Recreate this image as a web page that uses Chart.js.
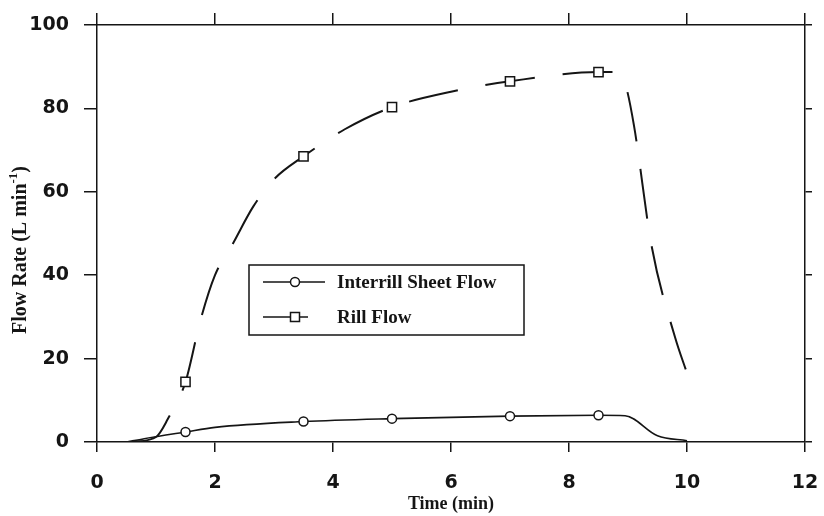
<!DOCTYPE html>
<html lang="en">
<head>
<meta charset="utf-8" />
<title>Flow Rate vs Time</title>
<script src="https://cdn.jsdelivr.net/npm/chart.js/dist/chart.umd.min.js"></script>
<style>
  * { margin: 0; padding: 0; }
  body { background: #fff; }
</style>
</head>
<body>
<canvas id="myChart" width="824" height="516"></canvas>
<script>
// values
const sheetTime = [0.5, 0.8, 1.5, 2, 3.5, 5, 7, 8.5, 8.95, 9.5, 10];
const sheetFlow = [0, 0.8, 2.4, 3.5, 4.9, 5.6, 6.2, 6.4, 6.3, 1.5, 0.3];
const rillTime = [0.6, 1.0, 1.2, 1.5, 1.75, 2.0, 2.3, 2.65, 3.0, 3.5, 4.2, 5, 6, 7, 8.5, 8.8, 8.95, 9.1, 9.4, 9.8, 10];
const rillFlow = [0, 1.2, 5.5, 14.4, 29, 40, 47.5, 56.5, 63, 68.5, 75, 80.3, 84, 86.5, 88.7, 88.7, 86, 76, 47, 25, 16.5];
const markerTimes = [1.5, 3.5, 5, 7, 8.5];
const xTicks = [0, 2, 4, 6, 8, 10, 12];
const yTicks = [0, 20, 40, 60, 80, 100];
const seriesNames = ["Interrill Sheet Flow", "Rill Flow"];

const ink = "#151515";
const toPoints = (xs, ys) => xs.map((x, i) => ({ x: x, y: ys[i] }));
const markerAt = (r) => (ctx) => markerTimes.includes(ctx.raw && ctx.raw.x) ? r : 0;

const tickFont = { family: "DejaVu Sans", size: 19, weight: "bold" };

const axisBase = {
  type: "linear",
  border: { display: true, color: ink, width: 1.5 },
  grid: { drawOnChartArea: false, drawTicks: true, color: ink, lineWidth: 1.5 },
};
// keep the plot box fixed, no extra room for the edge labels
const noPad = (s) => { s.paddingLeft = 0; s.paddingRight = 0; s.paddingTop = 0; s.paddingBottom = 0; };

// legend box drawn inside the plot, like the original figure
const boxLegend = {
  id: "boxLegend",
  afterDraw(chart) {
    const ctx = chart.ctx;
    ctx.save();
    ctx.strokeStyle = ink;
    ctx.lineWidth = 1.5;
    ctx.strokeRect(249, 265, 275, 70);

    const rows = [
      { y: 282, x1: 263, x2: 325, shape: "circle" },
      { y: 317, x1: 263, x2: 308, shape: "rect" },
    ];
    ctx.font = "bold 19px 'Liberation Serif'";
    ctx.textBaseline = "middle";
    rows.forEach((r, i) => {
      ctx.beginPath();
      ctx.moveTo(r.x1, r.y);
      ctx.lineTo(r.x2, r.y);
      ctx.stroke();
      ctx.fillStyle = "#fff";
      ctx.beginPath();
      if (r.shape === "circle") ctx.arc(295, r.y, 4.5, 0, Math.PI * 2);
      else ctx.rect(290.5, r.y - 4.5, 9, 9);
      ctx.fill();
      ctx.stroke();
      ctx.fillStyle = ink;
      ctx.fillText(chart.data.datasets[i].label, 337, r.y + 1);
    });

    // y axis title with superscript
    ctx.translate(21, 250);
    ctx.rotate(-Math.PI / 2);
    const main = "Flow Rate (L min";
    const sup = "-1";
    const tail = ")";
    ctx.font = "bold 20px 'Liberation Serif'";
    const wMain = ctx.measureText(main).width;
    const wTail = ctx.measureText(tail).width;
    ctx.font = "bold 13px 'Liberation Serif'";
    const wSup = ctx.measureText(sup).width;
    let x = -(wMain + wSup + wTail) / 2;
    ctx.textAlign = "left";
    ctx.font = "bold 20px 'Liberation Serif'";
    ctx.fillText(main, x, 0);
    x += wMain;
    ctx.font = "bold 13px 'Liberation Serif'";
    ctx.fillText(sup, x, -7);
    x += wSup;
    ctx.font = "bold 20px 'Liberation Serif'";
    ctx.fillText(tail, x, 0);
    ctx.restore();
  },
};

new Chart(document.getElementById("myChart"), {
  type: "scatter",
  data: {
    datasets: [
      {
        label: seriesNames[0],
        data: toPoints(sheetTime, sheetFlow),
        showLine: true,
        borderColor: ink,
        borderWidth: 1.6,
        cubicInterpolationMode: "monotone",
        pointStyle: "circle",
        pointRadius: markerAt(4.5),
        pointBorderWidth: 1.5,
        pointBorderColor: ink,
        pointBackgroundColor: "#fff",
      },
      {
        label: seriesNames[1],
        data: toPoints(rillTime, rillFlow),
        showLine: true,
        borderColor: ink,
        borderWidth: 2,
        borderDash: [50, 28],
        cubicInterpolationMode: "monotone",
        pointStyle: "rect",
        pointRadius: markerAt(6.5),
        pointBorderWidth: 1.5,
        pointBorderColor: ink,
        pointBackgroundColor: "#fff",
      },
    ],
  },
  options: {
    responsive: false,
    animation: false,
    layout: { padding: 0 },
    plugins: {
      legend: { display: false },
      tooltip: { enabled: false },
    },
    scales: {
      x: {
        ...axisBase,
        position: "bottom",
        min: 0,
        max: 12,
        grid: { ...axisBase.grid, tickLength: 10 },
        afterBuildTicks: (s) => { s.ticks = xTicks.map((v) => ({ value: v })); },
        afterFit: (s) => { s.height = 74; noPad(s); },
        ticks: { font: tickFont, color: ink, padding: 20, maxRotation: 0 },
        title: {
          display: true,
          text: "Time (min)",
          color: ink,
          font: { family: "Liberation Serif", size: 18, weight: "bold" },
          padding: { top: 0, bottom: 1 },
        },
      },
      y: {
        ...axisBase,
        position: "left",
        min: 0,
        max: 100,
        grid: { ...axisBase.grid, tickLength: 13 },
        afterBuildTicks: (s) => { s.ticks = yTicks.map((v) => ({ value: v })); },
        afterFit: (s) => { s.width = 97; noPad(s); },
        ticks: { font: tickFont, color: ink, padding: 15 },
      },
      x2: {
        ...axisBase,
        position: "top",
        min: 0,
        max: 12,
        grid: { ...axisBase.grid, tickLength: 12 },
        afterBuildTicks: (s) => { s.ticks = xTicks.map((v) => ({ value: v })); },
        afterFit: (s) => { s.height = 25; noPad(s); },
        ticks: { display: false },
      },
      y2: {
        ...axisBase,
        position: "right",
        min: 0,
        max: 100,
        grid: { ...axisBase.grid, tickLength: 7 },
        afterBuildTicks: (s) => { s.ticks = yTicks.map((v) => ({ value: v })); },
        afterFit: (s) => { s.width = 19; noPad(s); },
        ticks: { display: false },
      },
    },
  },
  plugins: [boxLegend],
});
</script>
</body>
</html>
